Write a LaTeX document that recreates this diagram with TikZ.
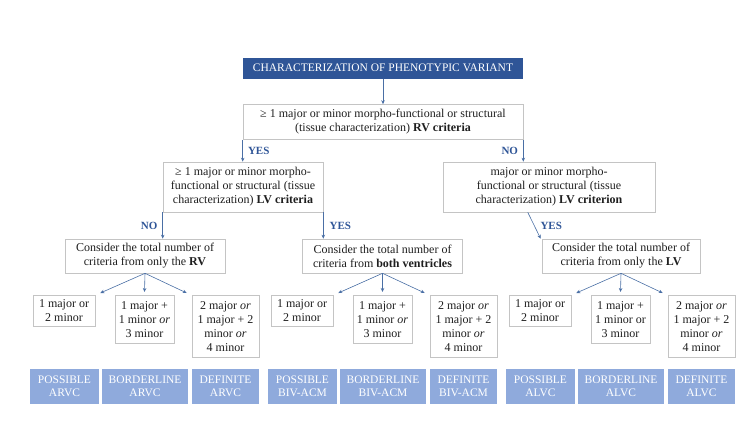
\documentclass[tikz,border=0pt]{standalone}
\usepackage{fontspec}
\setmainfont{Liberation Serif}
\usetikzlibrary{arrows.meta,calc}
\definecolor{titleblue}{HTML}{2F5597}
\definecolor{outblue}{HTML}{8FAADC}
\definecolor{lblblue}{HTML}{2F5597}
\definecolor{arrblue}{HTML}{4A6FA5}
\definecolor{boxgray}{HTML}{C4C4C4}
\definecolor{txt}{HTML}{1F1F1F}
\tikzset{
  box/.style={draw=boxgray, line width=0.6pt, fill=white, align=center, inner sep=1pt, text=txt, font=\fontsize{12}{14}\selectfont},
  subbox/.style={box, anchor=north},
  darkbox/.style={fill=titleblue, text=white, align=center, inner sep=1pt, font=\fontsize{11.5}{14}\selectfont},
  outbox/.style={fill=outblue, text=white, align=center, inner sep=1pt, minimum height=35, font=\fontsize{11.5}{13.5}\selectfont},
  arr/.style={draw=arrblue, line width=0.6pt, -{Stealth[length=4pt,width=3.5pt]}},
  lbl/.style={text=lblblue, font=\bfseries\fontsize{11}{13}\selectfont, inner sep=1pt}
}
\newcommand{\grp}[4]{% #1 origin x, #2 prefix, #3 box2 text, #4 outcome suffix
  \node[subbox, minimum width=62, minimum height=31] (#2s1) at (#1+34,295) {1 major or\\2 minor};
  \node[subbox, minimum width=59, minimum height=48] (#2s2) at (#1+114.5,295) {#3};
  \node[subbox, minimum width=67, minimum height=62] (#2s3) at (#1+195.5,295) {2 major \textit{or}\\1 major + 2\\minor \textit{or}\\4 minor};
  \node[outbox, minimum width=69] (#2o1) at (#1+34.5,386.5) {POSSIBLE\\#4};
  \node[outbox, minimum width=86] (#2o2) at (#1+115,386.5) {BORDERLINE\\#4};
  \node[outbox, minimum width=67] (#2o3) at (#1+195.5,386.5) {DEFINITE\\#4};
}
\begin{document}
\begin{tikzpicture}[x=1pt,y=-1pt]
\useasboundingbox (0,0) rectangle (750,426);
\node[darkbox, minimum width=280, minimum height=21] (title) at (383,68) {CHARACTERIZATION OF PHENOTYPIC VARIANT};
\node[box, minimum width=280, minimum height=35] (q1) at (383,122) {≥ 1 major or minor morpho-functional or structural\\(tissue characterization) \textbf{RV criteria}};
\node[box, minimum width=160, minimum height=50] (q2) at (243,187) {≥ 1 major or minor morpho-\\functional or structural (tissue\\characterization) \textbf{LV criteria}};
\node[box, minimum width=212, minimum height=50] (q3) at (549,187) {major or minor morpho-\\functional or structural (tissue\\characterization) \textbf{LV criterion}};
\node[box, minimum width=160, minimum height=34] (rv) at (145,256) {Consider the total number of\\criteria from only the \textbf{RV}};
\node[box, minimum width=160, minimum height=34] (bv) at (382.5,256) {Consider the total number of\\criteria from \textbf{both ventricles}};
\node[box, minimum width=158, minimum height=34] (lv) at (621,256) {Consider the total number of\\criteria from only the \textbf{LV}};
\grp{30}{a}{1 major +\\1 minor \textit{or}\\3 minor}{ARVC}
\grp{268}{b}{1 major +\\1 minor \textit{or}\\3 minor}{BIV-ACM}
\grp{506}{c}{1 major +\\1 minor or\\3 minor}{ALVC}
% connectors
\draw[arr] (title) -- (q1);
\draw[arr] (q1.south west) -- node[lbl, right=4pt] {YES} (q1.south west |- q2.north);
\draw[arr] (q1.south east) -- node[lbl, left=4pt] {NO} (q1.south east |- q3.north);
\draw[arr] (q2.south west) -- node[lbl, left=4pt] {NO} (q2.south west |- rv.north);
\draw[arr] (q2.south east) -- node[lbl, right=5pt] {YES} (q2.south east |- bv.north);
\draw[arr] ($(q3.south west)!0.4!(q3.south east)$) -- node[lbl, right=5pt] {YES} ($(lv.north west)+(-1,0)$);
\foreach \g/\p in {rv/a, bv/b, lv/c}{
  \draw[arr] (\g.south) -- ($(\p s1.north east)+(5,-2)$);
  \draw[arr] (\g.south) -- ($(\p s2.north)+(0,-3)$);
  \draw[arr] (\g.south) -- ($(\p s3.north west)+(-5,-2)$);
}
\end{tikzpicture}
\end{document}
